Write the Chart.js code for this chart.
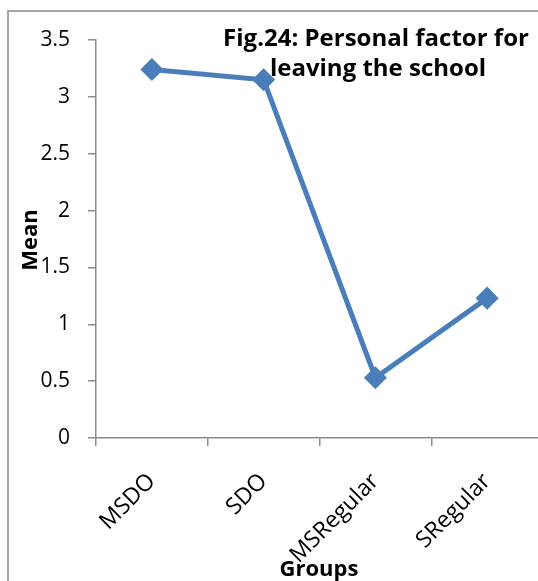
<!DOCTYPE html>
<html>
<head>
<meta charset="utf-8">
<script src="https://cdn.jsdelivr.net/npm/chart.js@4/dist/chart.umd.min.js"></script>
<style>
  html, body { margin: 0; padding: 0; background: #fff; overflow: hidden; }
  #wrap { position: relative; width: 538px; height: 581px; overflow: hidden; }
  #frame { position: absolute; left: 7px; top: 10px; width: 600px; height: 700px;
           border: 2px solid #a6a6a6; box-sizing: border-box; }
  #holder { position: absolute; left: 0; top: 0; width: 560px; height: 581px; }
</style>
</head>
<body>
<div id="wrap">
  <div id="frame"></div>
  <div id="holder"><canvas id="c" width="560" height="581"></canvas></div>
</div>
<script>
const groups = ['MSDO', 'SDO', 'MSRegular', 'SRegular'];
const meanValues = [3.24, 3.15, 0.53, 1.23];
const yTicks = [0, 0.5, 1, 1.5, 2, 2.5, 3, 3.5];
const titleLines = ['Fig.24: Personal factor for', 'leaving the school'];
const yTitle = 'Mean';
const xTitle = 'Groups';

const FONT = "'Open Sans', 'Liberation Sans', sans-serif";
const AXIS_GREY = '#8c8c8c';

// Chart title and axis titles drawn over the plot, Excel-style
const overlayText = {
  id: 'overlayText',
  afterDraw(chart) {
    const ctx = chart.ctx;
    ctx.save();
    ctx.fillStyle = '#000';
    ctx.font = 'bold 24px ' + FONT;
    ctx.textAlign = 'center';
    ctx.textBaseline = 'alphabetic';
    ctx.fillText(titleLines[0], 376, 46);
    ctx.fillText(titleLines[1], 378, 76);

    ctx.font = 'bold 22px ' + FONT;
    ctx.fillText(xTitle, 319, 576);

    ctx.translate(37, 240);
    ctx.rotate(-Math.PI / 2);
    ctx.fillText(yTitle, 0, 0);
    ctx.restore();
  }
};

new Chart(document.getElementById('c'), {
  type: 'line',
  data: {
    labels: groups,
    datasets: [{
      data: meanValues,
      borderColor: '#4a7ebb',
      backgroundColor: '#4a7ebb',
      borderWidth: 5,
      pointStyle: 'rectRot',
      pointRadius: 8,
      pointHoverRadius: 8,
      pointBackgroundColor: '#4a7ebb',
      pointBorderColor: '#4a7ebb',
      tension: 0,
      fill: false
    }]
  },
  options: {
    responsive: false,
    animation: false,
    events: [],
    layout: { padding: { top: 40, right: 17, left: 0, bottom: 0 } },
    plugins: { legend: { display: false }, tooltip: { enabled: false }, title: { display: false } },
    scales: {
      x: {
        type: 'category',
        offset: true,
        grid: { offset: true, drawOnChartArea: false, drawTicks: true, tickLength: 8, color: AXIS_GREY, lineWidth: 1.5 },
        border: { color: AXIS_GREY, width: 1.5 },
        ticks: { color: '#000', font: { family: FONT, size: 23 }, maxRotation: 45, minRotation: 45, padding: 22 },
        afterFit(scale) { scale.height = 143; }
      },
      y: {
        min: 0,
        max: 3.5,
        afterBuildTicks(scale) { scale.ticks = yTicks.map(v => ({ value: v })); },
        grid: { drawOnChartArea: false, drawTicks: true, tickLength: 8, color: AXIS_GREY, lineWidth: 1.5 },
        border: { color: AXIS_GREY, width: 1.5 },
        ticks: { color: '#000', font: { family: FONT, size: 21 }, padding: 18, callback: v => String(v) },
        afterFit(scale) { scale.width = 96; }
      }
    }
  },
  plugins: [overlayText]
});
</script>
</body>
</html>
